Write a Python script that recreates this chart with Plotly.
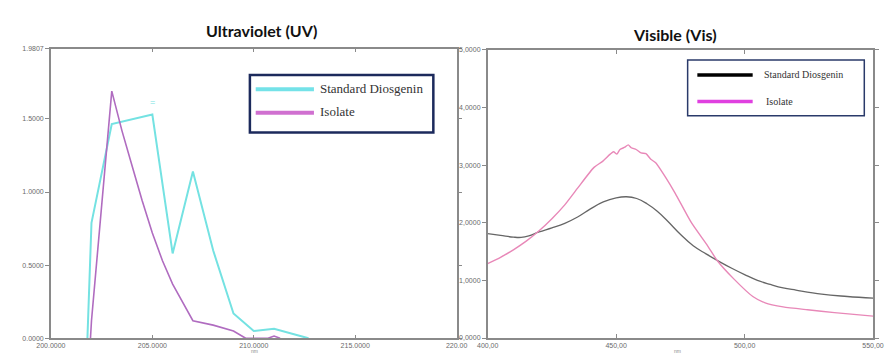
import plotly.graph_objects as go

# ---------------- data ----------------
uv_std_x = [201.8, 202.0, 203.0, 205.0, 206.0, 207.0, 208.0, 209.0, 210.0, 211.0, 212.7]
uv_std_y = [0.0, 0.79, 1.465, 1.53, 0.58, 1.14, 0.60, 0.17, 0.05, 0.065, 0.0]

uv_iso_x = [201.95, 202.0, 203.0, 203.5, 204.0, 204.5, 205.0, 205.5, 206.0, 206.5, 207.0,
            208.0, 209.0, 209.6, 210.7, 211.0, 211.3]
uv_iso_y = [0.0, 0.12, 1.69, 1.42, 1.18, 0.94, 0.72, 0.53, 0.37, 0.24, 0.12,
            0.09, 0.05, 0.0, 0.0, 0.015, 0.0]

vis_std_x = [400, 405, 410, 413, 416, 420, 425, 430, 435, 440, 445, 450, 454, 458,
             462, 466, 470, 475, 480, 485, 490, 495, 500, 505, 510, 515, 520, 530, 540, 550]
vis_std_y = [1.81, 1.78, 1.75, 1.745, 1.77, 1.84, 1.91, 1.99, 2.10, 2.24, 2.36, 2.43, 2.45, 2.42,
             2.33, 2.20, 2.03, 1.80, 1.60, 1.46, 1.33, 1.21, 1.10, 1.00, 0.93, 0.87, 0.83, 0.76, 0.72, 0.69]

vis_iso_x = [400, 405, 410, 415, 420, 425, 430, 435, 441.4, 444.6, 447.7, 449.0,
             450.3, 451.5, 453.4, 454.7, 455.9, 457.8, 459.7, 461.6, 463.5, 465.4, 469.2,
             473, 479.3, 485.6, 489.4, 495.7, 503.2, 508, 515, 524.5, 535, 550]
vis_iso_y = [1.29, 1.40, 1.53, 1.68, 1.86, 2.07, 2.31, 2.60, 2.96, 3.06, 3.19, 3.23,
             3.19, 3.27, 3.31, 3.35, 3.30, 3.27, 3.21, 3.20, 3.10, 3.04, 2.79,
             2.51, 2.00, 1.60, 1.34, 1.03, 0.72, 0.61, 0.54, 0.49, 0.44, 0.38]

uv_xticks = [200, 205, 210, 215, 220]
uv_xtext = ["200.0000", "205.0000", "210.0000", "215.0000", "220.00"]
uv_yticks = [0, 0.5, 1.0, 1.5, 1.9807]
uv_ytext = ["0.0000", "0.5000", "1.0000", "1.5000", "1.9807"]

vis_xticks = [400, 450, 500, 550]
vis_xtext = ["400,00", "450,00", "500,00", "550,00"]
vis_yticks = [0, 1, 2, 3, 4, 5]
vis_ytext = ["0,0000", "1,0000", "2,0000", "3,0000", "4,0000", "5,0000"]

# ---------------- figure ----------------
W, H = 885, 356


def px(x):
    return x / W


def py(y):
    return 1 - y / H


fig = go.Figure()
fig.add_trace(go.Scatter(x=uv_std_x, y=uv_std_y, mode="lines", name="Standard Diosgenin",
                         line=dict(color="#74e2e2", width=2), xaxis="x", yaxis="y"))
fig.add_trace(go.Scatter(x=uv_iso_x, y=uv_iso_y, mode="lines", name="Isolate",
                         line=dict(color="#b06cc0", width=1.6), xaxis="x", yaxis="y"))
fig.add_trace(go.Scatter(x=vis_std_x, y=vis_std_y, mode="lines", name="Standard Diosgenin",
                         line=dict(color="#666666", width=1.3, shape="spline", smoothing=1.2),
                         xaxis="x2", yaxis="y2"))
fig.add_trace(go.Scatter(x=vis_iso_x, y=vis_iso_y, mode="lines", name="Isolate",
                         line=dict(color="#e888b8", width=1.4, shape="spline", smoothing=0.6),
                         xaxis="x2", yaxis="y2"))

tickfont = dict(family="Liberation Sans", size=7, color="#6a6a6a")
axcommon = dict(showline=True, linecolor="#8a8a8a", linewidth=1.5, mirror="ticks",
                showgrid=False, zeroline=False, tickfont=tickfont, ticklen=4,
                tickcolor="#8a8a8a", fixedrange=True)

fig.update_layout(
    width=W, height=H, margin=dict(l=0, r=0, t=0, b=0),
    paper_bgcolor="white", plot_bgcolor="white", showlegend=False,
    xaxis=dict(domain=[px(37), px(455)], range=[200, 220], tickvals=uv_xticks,
               ticktext=uv_xtext, ticks="inside", anchor="y", **axcommon),
    yaxis=dict(domain=[py(341), py(45.5)], range=[0, 1.9807], tickvals=uv_yticks,
               ticktext=uv_ytext, ticks="outside", anchor="x", **axcommon),
    xaxis2=dict(domain=[px(487), px(884)], range=[400, 550], tickvals=vis_xticks,
                ticktext=vis_xtext, ticks="inside", anchor="y2", **axcommon),
    yaxis2=dict(domain=[py(340.7), py(46.7)], range=[0, 5], tickvals=vis_yticks,
                ticktext=vis_ytext, ticks="outside", anchor="x2", **axcommon),
)

shapes = []
annotations = []


def label(x, y, text, size, family, color, xanchor="center", xref="paper", yref="paper"):
    annotations.append(dict(
        x=px(x) if xref == "paper" else x, y=py(y) if yref == "paper" else y,
        xref=xref, yref=yref, text=text, showarrow=False,
        xanchor=xanchor, yanchor="middle",
        font=dict(family=family, size=size, color=color)))


# titles
label(254, 27, "<b>Ultraviolet (UV)</b>", 16, "Lato", "#111111")
label(680, 31.5, "<b>Visible (Vis)</b>", 16, "Lato", "#111111")
# nm labels
label(247, 354, "nm", 5, "Liberation Sans", "#888888")
label(683, 354, "nm", 5, "Liberation Sans", "#888888")
# small marker above UV standard at 205
label(205.0, 1.615, "=", 9, "Liberation Sans", "#74e2e2", xref="x", yref="y")

# UV legend box
shapes.append(dict(type="rect", xref="paper", yref="paper", x0=px(242), x1=px(431), y0=py(131), y1=py(72.5),
                   line=dict(color="#1c2a5c", width=2.5), fillcolor="white"))
shapes.append(dict(type="line", xref="paper", yref="paper", x0=px(248), x1=px(308), y0=py(87), y1=py(87),
                   line=dict(color="#74e2e8", width=4)))
shapes.append(dict(type="line", xref="paper", yref="paper", x0=px(248), x1=px(308), y0=py(111), y1=py(111),
                   line=dict(color="#d070d0", width=4)))
label(312, 86, "Standard Diosgenin", 13, "Liberation Serif", "#333333", xanchor="left")
label(312, 110, "Isolate", 13, "Liberation Serif", "#333333", xanchor="left")

# Vis legend box
shapes.append(dict(type="rect", xref="paper", yref="paper", x0=px(693), x1=px(875), y0=py(114), y1=py(57),
                   line=dict(color="#2a3a6a", width=1.5), fillcolor="white"))
shapes.append(dict(type="line", xref="paper", yref="paper", x0=px(703), x1=px(760), y0=py(72.5), y1=py(72.5),
                   line=dict(color="#000000", width=3.5)))
shapes.append(dict(type="line", xref="paper", yref="paper", x0=px(703), x1=px(760), y0=py(99.5), y1=py(99.5),
                   line=dict(color="#e040e0", width=3.5)))
label(770, 72, "Standard Diosgenin", 10, "Liberation Serif", "#333333", xanchor="left")
label(772, 99, "Isolate", 10, "Liberation Serif", "#333333", xanchor="left")

fig.update_layout(shapes=shapes, annotations=annotations)
fig.write_html("out.html")
